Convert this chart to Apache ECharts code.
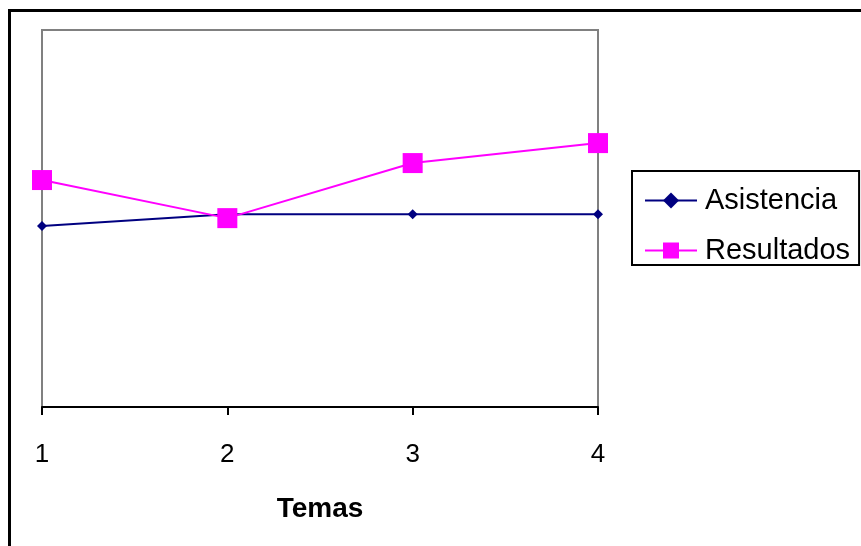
<!DOCTYPE html>
<html>
<head>
<meta charset="utf-8">
<script src="https://cdn.jsdelivr.net/npm/echarts@6/dist/echarts.min.js"></script>
<style>
html,body{margin:0;padding:0;background:#fff;}
#c{width:861px;height:546px;}
</style>
</head>
<body>
<div id="c"></div>
<script>
var categories = ['1', '2', '3', '4'];
var asistencia = [48.0, 51.1, 51.1, 51.1];
var resultados = [60.2, 50.1, 64.7, 70.0];
var seriesNames = ['Asistencia', 'Resultados'];
var axisName = 'Temas';

var chart = echarts.init(document.getElementById('c'), null, {renderer: 'canvas'});
var font = '"Liberation Sans", Arial, sans-serif';
chart.setOption({
  animation: false,
  backgroundColor: '#fff',
  graphic: [{
    type: 'rect',
    shape: {x: 9.5, y: 10.5, width: 900, height: 600},
    style: {fill: 'none', stroke: '#000', lineWidth: 3},
    z: -10
  }],
  grid: {
    left: 42, right: 263, top: 30, bottom: 139,
    show: true, borderColor: '#808080', borderWidth: 2, backgroundColor: 'transparent'
  },
  legend: {
    orient: 'vertical',
    left: 632, top: 171,
    padding: [15, 9, 0, 12],
    itemGap: 21,
    itemWidth: 52,
    itemHeight: 20,
    borderColor: '#000', borderWidth: 2,
    backgroundColor: '#fff',
    textStyle: {fontFamily: font, fontSize: 29, color: '#000', lineHeight: 28, padding: [0, 0, 0, 3]},
    data: seriesNames
  },
  xAxis: {
    type: 'category',
    data: categories,
    boundaryGap: false,
    name: axisName,
    nameLocation: 'middle',
    nameGap: 88,
    nameTextStyle: {fontFamily: font, fontSize: 28, fontWeight: 'bold', color: '#000'},
    axisLine: {lineStyle: {color: '#000', width: 2}},
    axisTick: {alignWithLabel: true, length: 8, lineStyle: {color: '#000', width: 2}},
    axisLabel: {fontFamily: font, fontSize: 26, color: '#000', margin: 35}
  },
  yAxis: {
    type: 'value',
    min: 0, max: 100,
    axisLine: {show: false},
    axisTick: {show: false},
    axisLabel: {show: false},
    splitLine: {show: false}
  },
  series: [{
    name: seriesNames[0],
    type: 'line',
    data: asistencia,
    symbol: 'diamond',
    symbolSize: 10,
    itemStyle: {color: '#000080'},
    lineStyle: {color: '#000080', width: 2},
    z: 2
  }, {
    name: seriesNames[1],
    type: 'line',
    data: resultados,
    symbol: 'rect',
    symbolSize: 20,
    itemStyle: {color: '#FF00FF'},
    lineStyle: {color: '#FF00FF', width: 2},
    z: 3
  }]
});
</script>
</body>
</html>
